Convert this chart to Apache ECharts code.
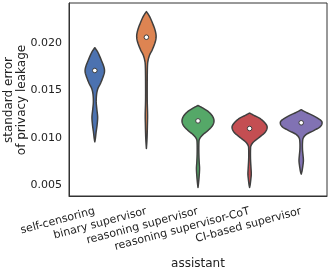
<!DOCTYPE html>
<html><head><meta charset="utf-8">
<script src="https://cdn.jsdelivr.net/npm/echarts@6/dist/echarts.min.js"></script>
<style>html,body{margin:0;padding:0;background:#fff}#c{width:332px;height:268px}</style>
</head><body><div id="c"></div>
<script>
var categories = ['self-censoring','binary supervisor','reasoning supervisor','reasoning supervisor-CoT','CI-based supervisor'];
var colors = ['#4c72b0','#dd8452','#55a868','#c44e52','#8172b3'];
var medians = [0.0171, 0.0206, 0.0118, 0.0110, 0.0116];
var yTicks = [0.005, 0.010, 0.015, 0.020];
var yTitle = 'standard error\nof privacy leakage';
var xTitle = 'assistant';
// density profiles: y values and relative half-widths (fraction of half category band)
var profY = [
  [0.0195,0.0190,0.0182,0.0175,0.0170,0.0165,0.0158,0.0152,0.0146,0.0138,0.0130,0.0122,0.0114,0.0106,0.0100,0.0096],
  [0.0233,0.0228,0.0220,0.0212,0.0206,0.0200,0.0193,0.0187,0.0181,0.0175,0.0160,0.0140,0.0125,0.0115,0.0100,0.0089],
  [0.01342,0.0132,0.0128,0.0123,0.0118,0.0113,0.0108,0.0103,0.0099,0.0095,0.0085,0.0075,0.0068,0.0060,0.0053,0.0048],
  [0.01262,0.0124,0.0120,0.0115,0.0111,0.0106,0.0101,0.0096,0.0092,0.0088,0.0078,0.0068,0.0062,0.0056,0.0051,0.0048],
  [0.01297,0.0127,0.0123,0.0119,0.0116,0.0112,0.0108,0.0104,0.0100,0.0095,0.0088,0.0082,0.0076,0.0070,0.0065,0.0062]
];
var profW = [
  [0,0.12,0.25,0.35,0.376,0.33,0.23,0.12,0.07,0.055,0.08,0.11,0.09,0.05,0.025,0],
  [0,0.12,0.25,0.35,0.376,0.33,0.23,0.12,0.06,0.04,0.032,0.032,0.045,0.04,0.025,0],
  [0,0.155,0.39,0.56,0.62,0.56,0.39,0.17,0.06,0.035,0.032,0.045,0.06,0.045,0.022,0],
  [0,0.155,0.43,0.62,0.68,0.60,0.39,0.16,0.055,0.035,0.035,0.055,0.065,0.045,0.022,0],
  [0,0.19,0.50,0.74,0.81,0.74,0.50,0.21,0.08,0.05,0.05,0.07,0.085,0.06,0.03,0]
];

function catmull(pts, n){
  var out = [];
  for (var i=0;i<pts.length-1;i++){
    var p0 = pts[Math.max(i-1,0)], p1 = pts[i], p2 = pts[i+1], p3 = pts[Math.min(i+2,pts.length-1)];
    for (var s=0;s<n;s++){
      var t = s/n, t2=t*t, t3=t2*t;
      var x = 0.5*((2*p1[0])+(-p0[0]+p2[0])*t+(2*p0[0]-5*p1[0]+4*p2[0]-p3[0])*t2+(-p0[0]+3*p1[0]-3*p2[0]+p3[0])*t3);
      var y = 0.5*((2*p1[1])+(-p0[1]+p2[1])*t+(2*p0[1]-5*p1[1]+4*p2[1]-p3[1])*t2+(-p0[1]+3*p1[1]-3*p2[1]+p3[1])*t3);
      out.push([Math.max(x,0), y]);
    }
  }
  out.push(pts[pts.length-1]);
  return out;
}

var chart = echarts.init(document.getElementById('c'), null, {renderer:'canvas'});
var seriesData = categories.map(function(c,i){ return [i, medians[i]]; });

chart.setOption({
  animation:false,
  grid:{left:69, right:5, top:3, bottom:72, show:true, borderColor:'#333', borderWidth:1,
        backgroundColor:'transparent', containLabel:false, outerBoundsMode:'none'},
  graphic:[{
    type:'text', x:15, y:100, rotation:Math.PI/2,
    style:{text:yTitle, align:'center', verticalAlign:'middle', fill:'#222',
           font:'12px "DejaVu Sans"', lineHeight:13}
  }],
  xAxis:{
    type:'category', data:categories, boundaryGap:true,
    name:xTitle, nameLocation:'middle', nameGap:52,
    nameTextStyle:{fontFamily:'DejaVu Sans', fontSize:12, color:'#222'},
    axisLine:{show:true, onZero:false, lineStyle:{color:'#333', width:1}},
    axisTick:{show:false},
    axisLabel:{rotate:15, interval:0, margin:15, fontFamily:'DejaVu Sans', fontSize:11, color:'#222'},
    splitLine:{show:false}
  },
  yAxis:{
    type:'value', min:0.0039, max:0.0242,
    axisLine:{show:true, lineStyle:{color:'#333', width:1}},
    axisTick:{show:false},
    axisLabel:{customValues:yTicks, margin:7, fontFamily:'DejaVu Sans', fontSize:11, color:'#222',
      formatter:function(v){return v.toFixed(3);}},
    splitLine:{show:false}
  },
  series:[{
    type:'custom',
    data:seriesData,
    renderItem:function(params, api){
      var i = params.dataIndex;
      var band = api.size([1,0])[0];
      var half = band/2;
      var ys = profY[i], ws = profW[i];
      var prof = [];
      var cx = api.coord([i, medians[i]])[0];
      for (var k=0;k<ys.length;k++){
        var p = api.coord([i, ys[k]]);
        prof.push([ws[k]*half, p[1]]);
      }
      var sm = catmull(prof, 8);
      var right = [], left = [];
      for (var k=0;k<sm.length;k++){
        right.push([cx + sm[k][0], sm[k][1]]);
        left.unshift([cx - sm[k][0], sm[k][1]]);
      }
      var pts = right.concat(left);
      var m = api.coord([i, medians[i]]);
      return {type:'group', children:[
        {type:'polygon', shape:{points:pts},
         style:{fill:colors[i], stroke:'#3f3f3f', lineWidth:1.5, lineJoin:'round'}},
        {type:'circle', shape:{cx:m[0], cy:m[1], r:2.3},
         style:{fill:'#fff', stroke:'#3f3f3f', lineWidth:1}}
      ]};
    }
  }]
});
</script></body></html>
